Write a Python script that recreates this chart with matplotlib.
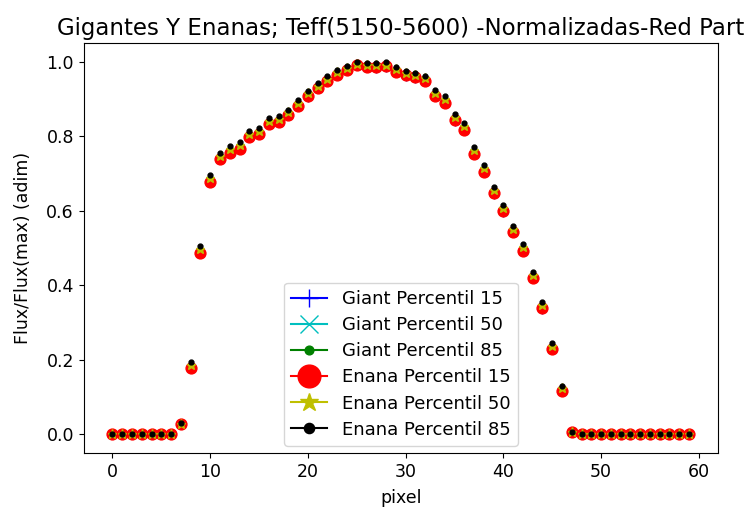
import numpy as np
import matplotlib
matplotlib.use("Agg")
import matplotlib.pyplot as plt
from matplotlib.lines import Line2D

# normalised flux per pixel, red part of the line, Teff 5150-5600
pixel = np.arange(60)

giant_15 = [0.0, 0.0, 0.0, 0.0, 0.0, 0.0, 0.0, 0.028, 0.178, 0.487,
            0.676, 0.738, 0.754, 0.766, 0.797, 0.805, 0.833, 0.837, 0.856, 0.880,
            0.906, 0.928, 0.947, 0.964, 0.977, 0.990, 0.985, 0.984, 0.986, 0.972,
            0.962, 0.957, 0.948, 0.908, 0.889, 0.842, 0.817, 0.752, 0.704, 0.646,
            0.598, 0.542, 0.492, 0.419, 0.337, 0.228, 0.116, 0.006, 0.0, 0.0,
            0.0, 0.0, 0.0, 0.0, 0.0, 0.0, 0.0, 0.0, 0.0, 0.0]
giant_50 = [0.0, 0.0, 0.0, 0.0, 0.0, 0.0, 0.0, 0.028, 0.179, 0.488,
            0.678, 0.739, 0.755, 0.768, 0.798, 0.806, 0.834, 0.838, 0.857, 0.881,
            0.907, 0.929, 0.948, 0.965, 0.978, 0.991, 0.986, 0.985, 0.987, 0.973,
            0.963, 0.958, 0.949, 0.909, 0.890, 0.843, 0.818, 0.753, 0.705, 0.647,
            0.599, 0.543, 0.493, 0.420, 0.338, 0.229, 0.117, 0.006, 0.0, 0.0,
            0.0, 0.0, 0.0, 0.0, 0.0, 0.0, 0.0, 0.0, 0.0, 0.0]
giant_85 = [0.0, 0.0, 0.0, 0.0, 0.0, 0.0, 0.0, 0.029, 0.180, 0.489,
            0.679, 0.740, 0.756, 0.769, 0.799, 0.807, 0.835, 0.839, 0.858, 0.882,
            0.908, 0.930, 0.949, 0.966, 0.979, 0.992, 0.987, 0.986, 0.988, 0.974,
            0.964, 0.959, 0.950, 0.910, 0.891, 0.844, 0.819, 0.754, 0.706, 0.648,
            0.600, 0.544, 0.494, 0.421, 0.339, 0.230, 0.118, 0.006, 0.0, 0.0,
            0.0, 0.0, 0.0, 0.0, 0.0, 0.0, 0.0, 0.0, 0.0, 0.0]
enana_15 = [0.0, 0.0, 0.0, 0.0, 0.0, 0.0, 0.0, 0.028, 0.179, 0.488,
            0.677, 0.738, 0.755, 0.767, 0.797, 0.806, 0.833, 0.837, 0.856, 0.881,
            0.907, 0.929, 0.948, 0.965, 0.978, 0.990, 0.986, 0.985, 0.987, 0.973,
            0.963, 0.958, 0.949, 0.909, 0.890, 0.843, 0.818, 0.753, 0.705, 0.647,
            0.599, 0.543, 0.493, 0.420, 0.338, 0.229, 0.117, 0.006, 0.0, 0.0,
            0.0, 0.0, 0.0, 0.0, 0.0, 0.0, 0.0, 0.0, 0.0, 0.0]
enana_50 = [0.0, 0.0, 0.0, 0.0, 0.0, 0.0, 0.0, 0.029, 0.187, 0.497,
            0.687, 0.747, 0.765, 0.777, 0.807, 0.815, 0.842, 0.845, 0.864, 0.889,
            0.915, 0.936, 0.954, 0.971, 0.983, 0.995, 0.991, 0.990, 0.992, 0.979,
            0.969, 0.964, 0.955, 0.917, 0.899, 0.852, 0.827, 0.762, 0.714, 0.656,
            0.608, 0.552, 0.502, 0.429, 0.347, 0.237, 0.124, 0.006, 0.0, 0.0,
            0.0, 0.0, 0.0, 0.0, 0.0, 0.0, 0.0, 0.0, 0.0, 0.0]
enana_85 = [0.0, 0.0, 0.0, 0.0, 0.0, 0.0, 0.0, 0.030, 0.195, 0.505,
            0.695, 0.756, 0.773, 0.785, 0.815, 0.823, 0.850, 0.853, 0.871, 0.896,
            0.922, 0.943, 0.961, 0.977, 0.989, 1.000, 0.997, 0.996, 0.998, 0.985,
            0.975, 0.970, 0.962, 0.925, 0.907, 0.860, 0.835, 0.770, 0.722, 0.664,
            0.616, 0.560, 0.510, 0.437, 0.355, 0.245, 0.131, 0.006, 0.0, 0.0,
            0.0, 0.0, 0.0, 0.0, 0.0, 0.0, 0.0, 0.0, 0.0, 0.0]

labels = ["Giant Percentil 15", "Giant Percentil 50", "Giant Percentil 85",
          "Enana Percentil 15", "Enana Percentil 50", "Enana Percentil 85"]
series = [giant_15, giant_50, giant_85, enana_15, enana_50, enana_85]
colors = ["b", "c", "g", "r", "y", "k"]
markers = ["+", "x", "o", "o", "*", "o"]
sizes = [6.5, 6.0, 3.0, 7.8, 6.5, 3.5]

fig, ax = plt.subplots(figsize=(7.47, 5.12), dpi=100)
fig.subplots_adjust(left=0.112, right=0.961, top=0.916, bottom=0.115)

for y, c, m, s in zip(series, colors, markers, sizes):
    ax.plot(pixel, y, linestyle="none", marker=m, color=c, markersize=s)

# legend entries drawn with a line through an enlarged marker
handles = [Line2D([], [], color=c, marker=m, markersize=s * 2.1)
           for c, m, s in zip(colors, markers, sizes)]
ax.legend(handles, labels, loc="lower center", fontsize=13, handlelength=2,
          labelspacing=0.45, borderaxespad=0.4)

ax.set_title("Gigantes Y Enanas; Teff(5150-5600) -Normalizadas-Red Part", fontsize=16.5)
ax.set_xlabel("pixel", fontsize=12.5, labelpad=6)
ax.set_ylabel("Flux/Flux(max) (adim)", fontsize=12.5, labelpad=10)
ax.tick_params(labelsize=12.5)

plt.savefig("out.png")
